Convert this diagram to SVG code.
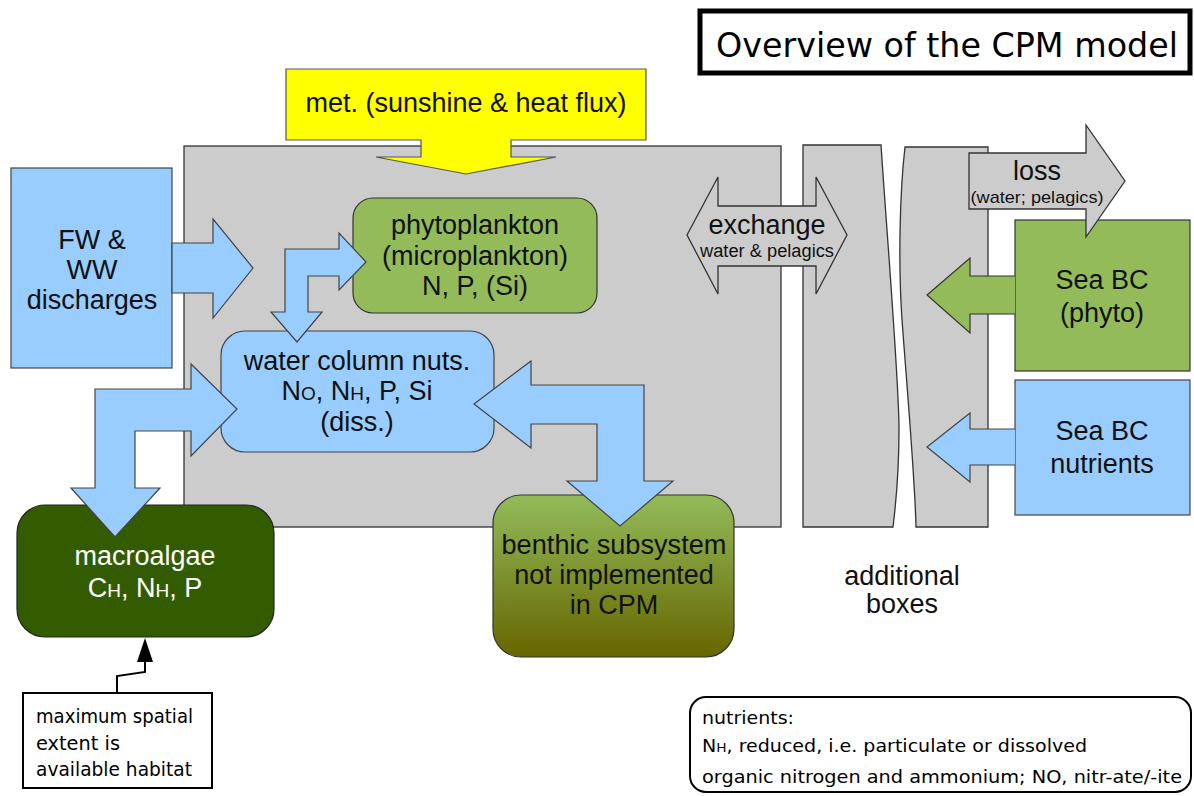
<svg xmlns="http://www.w3.org/2000/svg" width="1194" height="796" viewBox="0 0 1194 796">
<defs>
<linearGradient id="benthicGrad" x1="0" y1="0" x2="0" y2="1">
<stop offset="0" stop-color="#93bb5a"/>
<stop offset="1" stop-color="#666600"/>
</linearGradient>
<style>
.t{font-family:"Liberation Sans",Arial,sans-serif;font-size:27px;fill:#111;text-anchor:middle}
.c{font-family:"DejaVu Sans",sans-serif;fill:#000}
.gray{fill:#cccccc;stroke:#333;stroke-width:1.3}
.blue{fill:#99ccff;stroke:#444;stroke-width:1.2}
.green{fill:#93bb5a;stroke:#333;stroke-width:1.2}
.sm{font-size:19px}
.w{fill:#fff}
</style>
</defs>
<rect width="1194" height="796" fill="#fff"/>

<g id="main-box"><rect class="gray" x="184" y="146" width="597" height="381"/></g>
<g id="additional-boxes">
<path class="gray" d="M803,145 H881 C888,250 899,380 899,430 C899,480 895,510 893,527 H803 Z"/>
<path class="gray" d="M905,147 H988 V527 H916 C915,480 908,400 902,320 C898,260 900,190 905,147 Z"/>
<text class="t" x="902" y="585">additional</text>
<text class="t" x="902" y="613">boxes</text>
</g>

<g id="title">
<rect x="700" y="11" width="490" height="62" fill="#fff" stroke="#000" stroke-width="5"/>
<text class="c" x="716" y="57" font-size="34" textLength="462" lengthAdjust="spacingAndGlyphs">Overview of the CPM model</text>
</g>

<g id="met">
<path d="M286,69 H646 V140 H511 V157 H556 L466,174 L376,157 H421 V140 H286 Z" fill="#ffff00" stroke="#555" stroke-width="1.2"/>
<text class="t" x="466" y="112">met. (sunshine &amp; heat flux)</text>
</g>

<g id="fw-ww">
<rect class="blue" x="11" y="168" width="161" height="200"/>
<text class="t" x="92" y="249">FW &amp;</text>
<text class="t" x="92" y="279">WW</text>
<text class="t" x="92" y="309">discharges</text>
</g>

<g id="phytoplankton">
<rect class="green" x="353" y="198" width="244" height="115" rx="20"/>
<text class="t" x="475" y="234">phytoplankton</text>
<text class="t" x="475" y="265">(microplankton)</text>
<text class="t" x="475" y="295">N, P, (Si)</text>
</g>

<g id="water-column">
<rect class="blue" x="221" y="331" width="273" height="121" rx="24"/>
<text class="t" x="357" y="370">water column nuts.</text>
<text class="t" x="357" y="400">N<tspan class="sm">O</tspan>, N<tspan class="sm">H</tspan>, P, Si</text>
<text class="t" x="357" y="431">(diss.)</text>
</g>

<g id="macroalgae">
<rect x="17" y="505" width="257" height="132" rx="28" fill="#335c00" stroke="#222" stroke-width="1.2"/>
<text class="t w" x="145" y="565">macroalgae</text>
<text class="t w" x="145" y="597">C<tspan class="sm">H</tspan>, N<tspan class="sm">H</tspan>, P</text>
</g>

<g id="benthic">
<rect x="493" y="495" width="241" height="162" rx="28" fill="url(#benthicGrad)" stroke="#333" stroke-width="1.2"/>
<text class="t" x="614" y="554" textLength="225" lengthAdjust="spacingAndGlyphs">benthic subsystem</text>
<text class="t" x="614" y="584">not implemented</text>
<text class="t" x="614" y="614">in CPM</text>
</g>

<g id="sea-bc-phyto">
<rect class="green" x="1015" y="220" width="175" height="151"/>
<text class="t" x="1102" y="289">Sea BC</text>
<text class="t" x="1102" y="322">(phyto)</text>
</g>

<g id="sea-bc-nutrients">
<rect class="blue" x="1015" y="380" width="175" height="135"/>
<text class="t" x="1102" y="440">Sea BC</text>
<text class="t" x="1102" y="473">nutrients</text>
</g>

<g id="habitat-note">
<rect x="23" y="693" width="189" height="95" fill="#fff" stroke="#000" stroke-width="2"/>
<text class="c" x="36" y="723" font-size="19" textLength="157" lengthAdjust="spacingAndGlyphs">maximum spatial</text>
<text class="c" x="36" y="750" font-size="19" textLength="84" lengthAdjust="spacingAndGlyphs">extent is</text>
<text class="c" x="36" y="776" font-size="19" textLength="156" lengthAdjust="spacingAndGlyphs">available habitat</text>
</g>

<g id="nutrients-note">
<rect x="690" y="697" width="501" height="95" rx="16" fill="#fff" stroke="#000" stroke-width="2"/>
<text class="c" x="702" y="724" font-size="18" textLength="92" lengthAdjust="spacingAndGlyphs">nutrients:</text>
<text class="c" x="702" y="752" font-size="18" textLength="385" lengthAdjust="spacingAndGlyphs">N<tspan font-size="13">H</tspan>, reduced, i.e. particulate or dissolved</text>
<text class="c" x="702" y="783" font-size="18" textLength="480" lengthAdjust="spacingAndGlyphs">organic nitrogen and ammonium; NO, nitr-ate/-ite</text>
</g>

<g id="connectors">
<path class="blue" d="M172,243 H213 V219 L253,268 L213,318 V293 H172 Z"/>
<path class="blue" d="M285,249 H339 V233 L366,262 L339,290 V276 H308 V312 H322 L297,342 L271,312 H285 Z"/>
<path class="blue" d="M95,389 H191 V364 L237,409 L191,456 V431 H135 V488 H160 L115,537 L71,488 H95 Z"/>
<path class="blue" d="M474,404 L531,361 V385 H644 V481 H673 L620,526 L567,481 H597 V424 H531 V448 Z"/>
<path class="gray" d="M687,235 L718,177 V206 H816 V177 L847,235 L816,294 V266 H718 V294 Z"/>
<text class="t" x="767" y="234">exchange</text>
<text class="t" x="767" y="257" style="font-size:18px" textLength="134" lengthAdjust="spacingAndGlyphs">water &amp; pelagics</text>
<path class="gray" d="M969,153 H1086 V125 L1125,181 L1086,237 V209 H969 Z"/>
<text class="t" x="1037" y="180">loss</text>
<text class="t" x="1037" y="203" style="font-size:17px" textLength="133" lengthAdjust="spacingAndGlyphs">(water; pelagics)</text>
<path class="green" d="M1015,276 H970 V258 L927,295 L970,333 V314 H1015"/>
<path class="blue" d="M1015,429 H970 V413 L927,447 L970,482 V465 H1015"/>
<polyline points="117,693 117,676 145,672 145,660" fill="none" stroke="#000" stroke-width="2"/>
<path d="M137,662 L153,662 L145,638 Z" fill="#000"/>
</g>
</svg>
